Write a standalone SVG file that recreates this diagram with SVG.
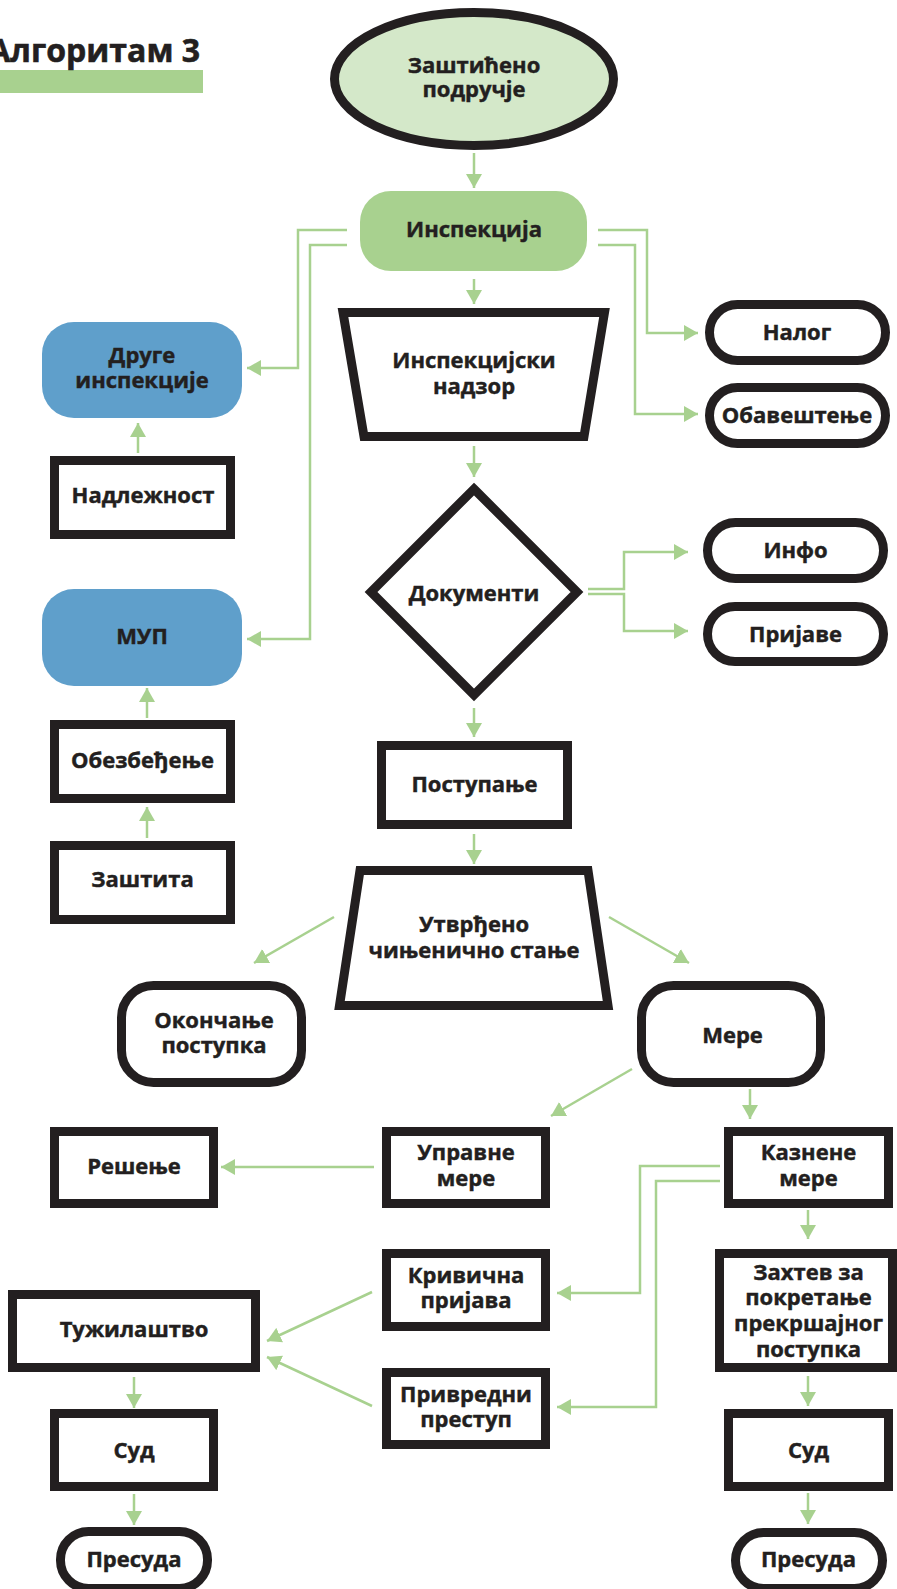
<svg xmlns="http://www.w3.org/2000/svg" width="897" height="1589" viewBox="0 0 897 1589">
<defs>
<style>
.t{font-family:"Open Sans","Noto Sans","DejaVu Sans",sans-serif;font-weight:700;font-size:22px;fill:#231f20;stroke:#231f20;stroke-width:0.45;text-anchor:middle}
.box{fill:#fff;stroke:#231f20;stroke-width:9}
.blue{fill:#5f9fcb}
.c{fill:none;stroke:#a8d18f;stroke-width:2.5;marker-end:url(#ah)}
</style>
<marker id="ah" viewBox="0 0 14 16" markerWidth="14" markerHeight="16" refX="14" refY="8" orient="auto" markerUnits="userSpaceOnUse">
<path d="M0,0 L14,8 L0,16 Z" fill="#a8d18f"/>
</marker>
</defs>
<rect width="897" height="1589" fill="#fff"/>
<g id="title">
<rect x="0" y="70" width="203" height="23" fill="#a8d18f"/>
<text x="200" y="62" style="font-family:'Open Sans','Noto Sans',sans-serif;font-weight:700;font-size:32px;fill:#231f20;stroke:#231f20;stroke-width:0.6;text-anchor:end">Алгоритам 3</text>
</g>
<g id="connectors">
<path class="c" d="M474,153 V188"/>
<path class="c" d="M474,279 V304"/>
<path class="c" d="M474,446 V477"/>
<path class="c" d="M474,708 V737"/>
<path class="c" d="M474,834 V864"/>
<path class="c" d="M347,230 H298 V368 H247"/>
<path class="c" d="M347,245 H310 V639 H247"/>
<path class="c" d="M598,230 H647 V333 H698"/>
<path class="c" d="M598,245 H635 V414 H698"/>
<path class="c" d="M138,453 V423"/>
<path class="c" d="M147,718 V688"/>
<path class="c" d="M147,838 V807"/>
<path class="c" d="M588,589 H624 V552 H688"/>
<path class="c" d="M588,594 H624 V631 H688"/>
<path class="c" d="M334,917 L254,963"/>
<path class="c" d="M609,917 L689,963"/>
<path class="c" d="M632,1069 L551,1116"/>
<path class="c" d="M750,1089 V1119"/>
<path class="c" d="M374,1167 H221"/>
<path class="c" d="M720,1166 H640 V1293 H557"/>
<path class="c" d="M720,1181 H656 V1407 H557"/>
<path class="c" d="M808,1210 V1239"/>
<path class="c" d="M808,1376 V1406"/>
<path class="c" d="M808,1493 V1524"/>
<path class="c" d="M372,1292 L267,1341"/>
<path class="c" d="M372,1406 L267,1357"/>
<path class="c" d="M134,1377 V1408"/>
<path class="c" d="M134,1494 V1525"/>
</g>
<g id="zasticeno">
<ellipse cx="474" cy="79" rx="139.5" ry="66.5" fill="#d4e8c9" stroke="#231f20" stroke-width="9"/>
<text class="t" x="474" y="73">Заштићено</text>
<text class="t" x="474" y="97">подручје</text>
</g>
<g id="inspekcija">
<rect x="360" y="191" width="227" height="80" rx="31" fill="#a8d18f"/>
<text class="t" x="474" y="237">Инспекција</text>
</g>
<g id="druge">
<rect class="blue" x="42" y="322" width="200" height="96" rx="32"/>
<text class="t" x="142" y="363">Друге</text>
<text class="t" x="142" y="388">инспекције</text>
</g>
<g id="nadleznost">
<rect class="box" x="54.5" y="460.5" width="176" height="74"/>
<text class="t" x="143" y="503">Надлежност</text>
</g>
<g id="mup">
<rect class="blue" x="42" y="589" width="200" height="97" rx="32"/>
<text class="t" x="142" y="644">МУП</text>
</g>
<g id="obezbedjenje">
<rect class="box" x="54.5" y="724.5" width="176" height="74"/>
<text class="t" x="142.5" y="768">Обезбеђење</text>
</g>
<g id="zastita">
<rect class="box" x="54.5" y="845.5" width="176" height="74"/>
<text class="t" x="142.5" y="887">Заштита</text>
</g>
<g id="nadzor">
<polygon class="box" points="343,312.5 604.5,312.5 584,436.5 364,436.5"/>
<text class="t" x="474" y="368">Инспекцијски</text>
<text class="t" x="474" y="394">надзор</text>
</g>
<g id="nalog">
<rect class="box" x="709.5" y="304.5" width="176" height="56" rx="28"/>
<text class="t" x="797" y="340">Налог</text>
</g>
<g id="obavestenje">
<rect class="box" x="709.5" y="387.5" width="176" height="56" rx="28"/>
<text class="t" x="797" y="423">Обавештење</text>
</g>
<g id="dokumenti">
<polygon class="box" points="474,489 577,592 474,695 371,592"/>
<text class="t" x="474" y="601">Документи</text>
</g>
<g id="info">
<rect class="box" x="707.5" y="522.5" width="176" height="56" rx="28"/>
<text class="t" x="795.5" y="558">Инфо</text>
</g>
<g id="prijave">
<rect class="box" x="707.5" y="606.5" width="176" height="55" rx="27.5"/>
<text class="t" x="795.5" y="642">Пријаве</text>
</g>
<g id="postupanje">
<rect class="box" x="381.5" y="745.5" width="186" height="79"/>
<text class="t" x="474.5" y="792">Поступање</text>
</g>
<g id="utvrdjeno">
<polygon class="box" points="360,870.5 588,870.5 608,1005.5 339.5,1005.5"/>
<text class="t" x="474" y="932">Утврђено</text>
<text class="t" x="474" y="958">чињенично стање</text>
</g>
<g id="okoncanje">
<rect class="box" x="121.5" y="985.5" width="180" height="97" rx="32"/>
<text class="t" x="214" y="1028">Окончање</text>
<text class="t" x="214" y="1053">поступка</text>
</g>
<g id="mere">
<rect class="box" x="641.5" y="985.5" width="179" height="97" rx="32"/>
<text class="t" x="732.5" y="1043">Мере</text>
</g>
<g id="upravne">
<rect class="box" x="386.5" y="1131.5" width="159" height="72"/>
<text class="t" x="466" y="1160">Управне</text>
<text class="t" x="466" y="1186">мере</text>
</g>
<g id="resenje">
<rect class="box" x="54.5" y="1131.5" width="159" height="72"/>
<text class="t" x="134" y="1174">Решење</text>
</g>
<g id="kaznene">
<rect class="box" x="728.5" y="1131.5" width="160" height="72"/>
<text class="t" x="808.5" y="1160">Казнене</text>
<text class="t" x="808.5" y="1186">мере</text>
</g>
<g id="krivicna">
<rect class="box" x="386.5" y="1253.5" width="159" height="73"/>
<text class="t" x="466" y="1283">Кривична</text>
<text class="t" x="466" y="1308">пријава</text>
</g>
<g id="privredni">
<rect class="box" x="386.5" y="1372.5" width="159" height="72"/>
<text class="t" x="466" y="1402">Привредни</text>
<text class="t" x="466" y="1427">преступ</text>
</g>
<g id="zahtev">
<rect class="box" x="719.5" y="1253.5" width="173" height="114"/>
<text class="t" x="808.5" y="1280">Захтев за</text>
<text class="t" x="808.5" y="1305">покретање</text>
<text class="t" x="808.5" y="1331">прекршајног</text>
<text class="t" x="808.5" y="1357">поступка</text>
</g>
<g id="tuzilastvo">
<rect class="box" x="12.5" y="1294.5" width="243" height="73"/>
<text class="t" x="134" y="1337">Тужилаштво</text>
</g>
<g id="sud-left">
<rect class="box" x="54.5" y="1413.5" width="159" height="73"/>
<text class="t" x="134" y="1458">Суд</text>
</g>
<g id="sud-right">
<rect class="box" x="728.5" y="1413.5" width="160" height="73"/>
<text class="t" x="808.5" y="1458">Суд</text>
</g>
<g id="presuda-left">
<rect class="box" x="60.5" y="1531.5" width="147" height="57" rx="28"/>
<text class="t" x="134" y="1567">Пресуда</text>
</g>
<g id="presuda-right">
<rect class="box" x="735.5" y="1532.5" width="147" height="56" rx="28"/>
<text class="t" x="808.5" y="1567">Пресуда</text>
</g>
</svg>
